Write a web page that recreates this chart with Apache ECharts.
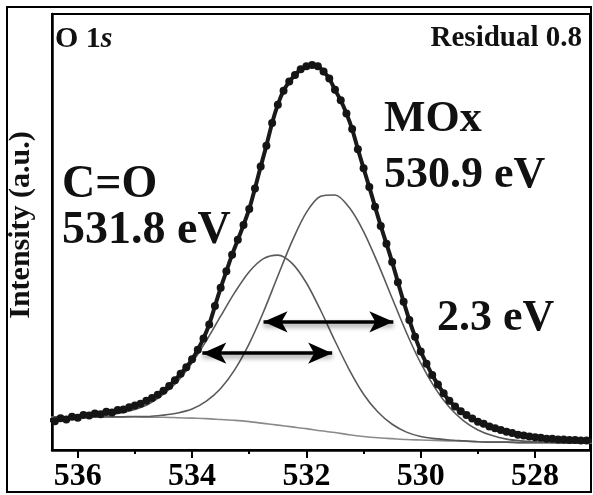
<!DOCTYPE html>
<html>
<head>
<meta charset="utf-8">
<script src="https://cdn.jsdelivr.net/npm/echarts@6/dist/echarts.min.js"></script>
<style>
  html, body { margin: 0; padding: 0; background: #fff; }
  #chart { width: 593px; height: 495px; }
</style>
</head>
<body>
<div id="chart"></div>
<script>
// measured O 1s spectrum (binding energy in eV, intensity in a.u.)
const energyMeasured = [
  536.5, 536.4, 536.3, 536.2, 536.1, 536.0, 535.9, 535.8, 535.7, 535.6,
  535.5, 535.4, 535.3, 535.2, 535.1, 535.0, 534.9, 534.8, 534.7, 534.6,
  534.5, 534.4, 534.3, 534.2, 534.1, 534.0, 533.9, 533.8, 533.7, 533.6,
  533.5, 533.4, 533.3, 533.2, 533.1, 533.0, 532.9, 532.8, 532.7, 532.6,
  532.5, 532.4, 532.3, 532.2, 532.1, 532.0, 531.9, 531.8, 531.7, 531.6,
  531.5, 531.4, 531.3, 531.2, 531.1, 531.0, 530.9, 530.8, 530.7, 530.6,
  530.5, 530.4, 530.3, 530.2, 530.1, 530.0, 529.9, 529.8, 529.7, 529.6,
  529.5, 529.4, 529.3, 529.2, 529.1, 529.0, 528.9, 528.8, 528.7, 528.6,
  528.5, 528.4, 528.3, 528.2, 528.1, 528.0, 527.9, 527.8, 527.7, 527.6,
  527.5, 527.4, 527.3, 527.2, 527.1, 527.0
];
const intensityMeasured = [
  6.9, 6.6, 7.3, 7.0, 7.6, 7.4, 8.0, 7.9, 8.4, 8.2,
  8.8, 8.6, 9.2, 9.3, 9.8, 10.2, 10.6, 11.3, 11.9, 12.7,
  13.6, 14.7, 16.0, 17.5, 19.0, 20.8, 23.0, 25.6, 28.8, 33.0,
  37.2, 41.0, 44.8, 48.2, 51.6, 55.3, 60.0, 65.0, 69.8, 75.0,
  79.2, 82.4, 84.5, 86.0, 87.3, 88.0, 88.3, 88.0, 86.8, 85.2,
  82.6, 80.2, 77.2, 73.6, 69.0, 64.6, 60.3, 55.8, 51.4, 47.3,
  43.1, 38.5, 34.0, 29.8, 26.0, 22.6, 19.8, 17.2, 15.0, 13.0,
  11.3, 10.0, 8.9, 8.0, 7.2, 6.5, 6.0, 5.4, 5.0, 4.6,
  4.2, 3.9, 3.5, 3.3, 3.1, 2.9, 2.8, 2.6, 2.6, 2.4,
  2.4, 2.3, 2.3, 2.2, 2.2, 2.1
];

// fitted curves
const energyFit = [
  536.5, 536.25, 536.0, 535.75, 535.5, 535.25, 535.0, 534.75, 534.5, 534.25,
  534.0, 533.75, 533.5, 533.25, 533.0, 532.75, 532.5, 532.25, 532.0, 531.75,
  531.5, 531.25, 531.0, 530.75, 530.5, 530.25, 530.0, 529.75, 529.5, 529.25,
  529.0, 528.75, 528.5, 528.25, 528.0, 527.75, 527.5, 527.25, 527.0
];
const backgroundFit = [
  7.6, 7.6, 7.6, 7.6, 7.6, 7.6, 7.6, 7.5, 7.5, 7.4,
  7.3, 7.2, 7.0, 6.8, 6.5, 6.1, 5.7, 5.3, 4.9, 4.4,
  4.0, 3.5, 3.1, 2.8, 2.6, 2.4, 2.3, 2.2, 2.1, 2.0,
  1.9, 1.8, 1.8, 1.7, 1.7, 1.7, 1.6, 1.6, 1.6
];
const coFit = [
  7.6, 7.6, 7.7, 7.8, 8.0, 8.5, 9.3, 10.6, 12.8, 15.8,
  20.0, 25.1, 30.7, 36.2, 40.9, 43.9, 44.7, 42.8, 38.3, 32.0,
  25.0, 18.4, 12.8, 8.7, 5.9, 4.1, 3.1, 2.6, 2.3, 2.1,
  1.9, 1.8, 1.8, 1.7, 1.7, 1.7, 1.6, 1.6, 1.6
];
const moxFit = [
  7.6, 7.6, 7.6, 7.6, 7.6, 7.6, 7.7, 7.7, 8.0, 8.5,
  9.4, 11.2, 14.1, 18.5, 24.4, 31.7, 39.9, 47.9, 54.5, 58.2,
  58.5, 55.6, 50.1, 42.8, 34.8, 26.9, 19.9, 14.2, 9.8, 6.7,
  4.6, 3.3, 2.5, 2.1, 1.9, 1.8, 1.6, 1.6, 1.6
];

const majorTicks = [528, 530, 532, 534, 536];
const minorTicks = [529, 531, 533, 535];

// FWHM arrows: [from eV, to eV, height]
const arrowUpper = [532.75, 530.48, 29.4];
const arrowLower = [533.82, 531.55, 22.2];

const serif = '"Liberation Serif", "DejaVu Serif", serif';

const chart = echarts.init(document.getElementById('chart'));

function pairs(xs, ys) {
  return xs.map((x, i) => [x, ys[i]]);
}

const fitLine = (color, width) => ({
  type: 'line',
  smooth: 0.3,
  showSymbol: false,
  silent: true,
  lineStyle: { color: color, width: width },
  z: 2
});

const label = (left, top, text, size) => ({
  type: 'text', silent: true, left: left, top: top,
  style: { text: text, fontFamily: serif, fontWeight: 'bold', fontSize: size, fill: '#111' }
});

const option = {
  animation: false,
  grid: {
    left: 52, right: 3, top: 14, bottom: 45,
    show: true, borderColor: '#000', borderWidth: 2
  },
  xAxis: [
    {
      type: 'value',
      inverse: true,
      min: 527.04,
      max: 536.45,
      axisLine: { show: true, lineStyle: { color: '#000', width: 2.5 } },
      axisTick: { show: true, customValues: majorTicks, length: 8, lineStyle: { color: '#000', width: 2 } },
      axisLabel: {
        customValues: majorTicks, margin: 11,
        fontFamily: serif, fontWeight: 'bold', fontSize: 32, color: '#000'
      },
      splitLine: { show: false }
    },
    {
      type: 'value',
      inverse: true,
      min: 527.04,
      max: 536.45,
      position: 'bottom',
      axisLine: { show: false },
      axisTick: { show: true, customValues: minorTicks, length: 4, lineStyle: { color: '#000', width: 2 } },
      axisLabel: { show: false },
      splitLine: { show: false }
    }
  ],
  yAxis: {
    type: 'value',
    min: 0,
    max: 100,
    axisLine: { show: true, lineStyle: { color: '#000', width: 2.5 } },
    axisTick: { show: false },
    axisLabel: { show: false },
    splitLine: { show: false }
  },
  series: [
    Object.assign(fitLine('#8a8a8a', 1.6), {
      name: 'background',
      data: pairs(energyFit, backgroundFit),
      markLine: {
        silent: true,
        symbol: ['arrow', 'arrow'],
        symbolSize: [16, 24],
        label: { show: false },
        lineStyle: {
          color: '#000', width: 3.5, type: 'solid',
          shadowBlur: 5, shadowColor: 'rgba(0,0,0,0.45)', shadowOffsetY: 3
        },
        data: [
          [{ coord: [arrowUpper[0], arrowUpper[2]] }, { coord: [arrowUpper[1], arrowUpper[2]] }],
          [{ coord: [arrowLower[0], arrowLower[2]] }, { coord: [arrowLower[1], arrowLower[2]] }]
        ]
      }
    }),
    Object.assign(fitLine('#5a5a5a', 1.6), { name: 'C=O', data: pairs(energyFit, coFit) }),
    Object.assign(fitLine('#5a5a5a', 1.6), { name: 'MOx', data: pairs(energyFit, moxFit) }),
    {
      name: 'measured',
      type: 'line',
      smooth: 0.2,
      silent: true,
      data: pairs(energyMeasured, intensityMeasured),
      symbol: 'circle',
      symbolSize: 8,
      showSymbol: true,
      itemStyle: { color: '#151515' },
      lineStyle: { color: '#1a1a1a', width: 4 },
      z: 3
    }
  ],
  graphic: [
    {
      type: 'rect', silent: true,
      shape: { x: 7, y: 7, width: 584, height: 485 },
      style: { fill: 'none', stroke: '#000', lineWidth: 2 }
    },
    {
      type: 'text', silent: true, left: 55, top: 24,
      style: {
        text: '{n|O 1}{i|s}',
        rich: {
          n: { fontFamily: serif, fontWeight: 'bold', fontSize: 30, fill: '#111' },
          i: { fontFamily: serif, fontWeight: 'bold', fontStyle: 'italic', fontSize: 30, fill: '#111' }
        }
      }
    },
    {
      type: 'text', silent: true, right: 11, top: 24,
      style: { text: 'Residual 0.8', fontFamily: serif, fontWeight: 'bold', fontSize: 29, fill: '#111' }
    },
    label(62, 162, 'C=O', 46),
    label(62, 208, '531.8 eV', 46),
    label(384, 98, 'MOx', 44),
    label(384, 154, '530.9 eV', 44),
    label(437, 297, '2.3 eV', 44),
    {
      type: 'text', silent: true, x: 21, y: 225, rotation: Math.PI / 2,
      style: {
        text: 'Intensity (a.u.)', fontFamily: serif, fontWeight: 'bold', fontSize: 30,
        fill: '#111', align: 'center', verticalAlign: 'middle'
      }
    }
  ]
};

chart.setOption(option);
</script>
</body>
</html>
